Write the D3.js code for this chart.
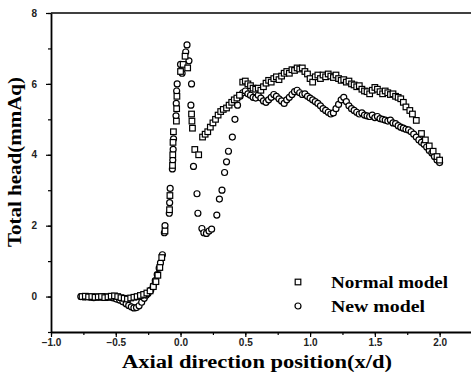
<!DOCTYPE html>
<html>
<head>
<meta charset="utf-8">
<script src="https://cdn.jsdelivr.net/npm/d3@7"></script>
<style>
  html, body { margin: 0; padding: 0; background: #fff; }
  svg { display: block; }
  .tick text { font-family: "Liberation Sans", Arial, sans-serif; font-weight: bold; font-size: 10px; fill: #222; }
  .title { font-family: "Liberation Serif", "Times New Roman", serif; font-weight: bold; fill: #000; }
</style>
</head>
<body>
<div id="chart"></div>
<script>
// Normal model (squares)
const normalX = [-0.76, -0.735, -0.71, -0.685, -0.66, -0.635, -0.61, -0.585, -0.56, -0.535, -0.51, -0.485, -0.46, -0.435, -0.41, -0.385, -0.36, -0.335, -0.31, -0.285, -0.26, -0.235, -0.21, -0.19, -0.175, -0.16, -0.145,
  -0.12, -0.085, -0.082, -0.062, -0.06, -0.058, -0.055, -0.032, -0.03, -0.028, 0.0, 0.02, 0.035, 0.055, 0.085, 0.088, 0.092, 0.11, 0.14,
  0.17, 0.19, 0.21, 0.23, 0.25, 0.27, 0.29, 0.31, 0.33, 0.355, 0.375, 0.395, 0.415, 0.435, 0.455, 0.48, 0.50, 0.52, 0.54, 0.56, 0.58, 0.60,
  0.62, 0.64, 0.66, 0.68, 0.70, 0.72, 0.74, 0.76, 0.78, 0.80, 0.82, 0.84, 0.86, 0.88, 0.90, 0.92, 0.94, 0.96, 0.98, 1.00, 1.02, 1.04, 1.06,
  1.08, 1.10, 1.12, 1.14, 1.16, 1.18, 1.20, 1.22, 1.24, 1.26, 1.28, 1.30, 1.32, 1.34, 1.36, 1.38, 1.40, 1.42, 1.44, 1.46, 1.48, 1.50, 1.52,
  1.54, 1.56, 1.58, 1.60, 1.62, 1.64, 1.66, 1.68, 1.70, 1.72, 1.74, 1.77, 1.79, 1.82, 1.86, 1.89, 1.92, 1.95, 1.98, 2.00];
const normalY = [0.00, 0.01, -0.01, 0.00, -0.02, -0.01, 0.00, -0.03, -0.01, 0.01, 0.02, 0.00, -0.03, -0.05, -0.07, -0.04, -0.02, 0.00, 0.03, 0.06, 0.10, 0.16, 0.28, 0.42, 0.60, 0.82, 1.10,
  1.85, 2.45, 2.85, 3.70, 4.00, 4.35, 4.65, 4.95, 5.30, 5.65, 6.35, 6.55, 6.78, 6.45, 5.15, 4.95, 4.75, 4.15, 4.00,
  4.50, 4.58, 4.65, 4.78, 4.90, 5.00, 5.12, 5.22, 5.28, 5.32, 5.40, 5.48, 5.55, 5.60, 5.68, 6.05, 6.08, 6.00, 5.95, 5.88, 5.85, 5.88,
  5.82, 5.92, 6.02, 6.10, 6.05, 6.15, 6.20, 6.12, 6.22, 6.30, 6.35, 6.30, 6.40, 6.38, 6.45, 6.42, 6.45, 6.35, 6.28, 6.15, 6.05, 6.20, 6.25,
  6.15, 6.25, 6.20, 6.28, 6.22, 6.18, 6.25, 6.15, 6.10, 6.12, 6.05, 6.08, 6.00, 5.97, 5.92, 5.95, 5.85, 5.80, 5.78, 5.72, 5.82, 5.90, 5.85,
  5.78, 5.72, 5.80, 5.75, 5.70, 5.72, 5.65, 5.62, 5.58, 5.48, 5.35, 5.25, 5.15, 4.97, 4.60, 4.42, 4.25, 4.10, 3.95, 3.85];

// New model (circles)
const newX = [-0.77, -0.745, -0.72, -0.695, -0.67, -0.645, -0.62, -0.595, -0.57, -0.545, -0.52, -0.495, -0.47, -0.445, -0.42, -0.40, -0.38, -0.36, -0.34, -0.32, -0.30, -0.28, -0.265, -0.25, -0.23, -0.21, -0.195, -0.18, -0.165, -0.155, -0.14,
  -0.125, -0.12, -0.087, -0.084, -0.08, -0.063, -0.06, -0.057, -0.054, -0.035, -0.033, -0.03, -0.026, 0.0, 0.012, 0.04, 0.05, 0.065, 0.085, 0.08,
  0.10, 0.127, 0.134, 0.165, 0.18, 0.20, 0.22, 0.24, 0.28, 0.30, 0.32, 0.34, 0.355, 0.37, 0.40, 0.42, 0.44, 0.46, 0.48, 0.50, 0.52, 0.54,
  0.56, 0.58, 0.60, 0.62, 0.64, 0.66, 0.68, 0.70, 0.72, 0.74, 0.76, 0.78, 0.80, 0.82, 0.84, 0.86, 0.88, 0.90, 0.92, 0.94, 0.96, 0.98, 1.00,
  1.02, 1.04, 1.06, 1.08, 1.10, 1.12, 1.14, 1.16, 1.18, 1.20, 1.22, 1.24, 1.26, 1.28, 1.30, 1.32, 1.34, 1.36, 1.38, 1.40, 1.42, 1.44, 1.46,
  1.48, 1.50, 1.52, 1.54, 1.56, 1.58, 1.60, 1.62, 1.64, 1.66, 1.68, 1.70, 1.72, 1.74, 1.76, 1.78, 1.80, 1.82, 1.84, 1.86, 1.88, 1.90, 1.92,
  1.94, 1.96, 1.98, 2.00];
const newY = [0.00, -0.01, 0.00, -0.02, -0.03, -0.01, -0.02, 0.00, -0.01, -0.02, -0.04, -0.07, -0.10, -0.15, -0.20, -0.25, -0.29, -0.32, -0.31, -0.26, -0.16, -0.05, 0.04, 0.09, 0.18, 0.30, 0.45, 0.62, 0.80, 0.95, 1.18,
  1.80, 2.00, 2.35, 2.65, 3.05, 3.60, 3.85, 4.15, 4.45, 5.10, 5.45, 5.80, 6.00, 6.55, 6.30, 6.90, 7.10, 6.65, 6.00, 5.40,
  3.67, 2.90, 2.35, 1.92, 1.80, 1.78, 1.85, 1.90, 2.30, 2.75, 3.00, 3.50, 3.80, 4.10, 4.50, 5.00, 5.40, 5.65, 5.75, 5.80, 5.72, 5.68,
  5.62, 5.60, 5.68, 5.60, 5.52, 5.48, 5.55, 5.62, 5.70, 5.65, 5.58, 5.52, 5.45, 5.55, 5.62, 5.70, 5.78, 5.82, 5.75, 5.70, 5.72, 5.65, 5.60,
  5.55, 5.50, 5.45, 5.38, 5.30, 5.25, 5.20, 5.15, 5.18, 5.30, 5.42, 5.55, 5.62, 5.50, 5.38, 5.30, 5.25, 5.20, 5.15, 5.18, 5.12, 5.10, 5.08,
  5.12, 5.05, 5.08, 5.02, 5.00, 4.98, 4.95, 4.98, 4.90, 4.88, 4.82, 4.78, 4.75, 4.72, 4.70, 4.65, 4.58, 4.50, 4.42, 4.35, 4.30, 4.22, 4.12,
  4.05, 3.95, 3.85, 3.78];

const xMajorTicks = [-1.0, -0.5, 0.0, 0.5, 1.0, 1.5, 2.0];
const xMinorTicks = [-1.0, -0.75, -0.5, -0.25, 0.0, 0.25, 0.5, 0.75, 1.0, 1.25, 1.5, 1.75, 2.0];
const yMajorTicks = [0, 2, 4, 6, 8];
const yMinorTicks = [-1, 0, 1, 2, 3, 4, 5, 6, 7, 8];
const legendLabels = ["Normal model", "New model"];

const width = 471;
const height = 376;

const svg = d3.select("#chart")
  .append("svg")
  .attr("width", width)
  .attr("height", height);

const x = d3.scaleLinear().domain([-1, 2.25]).range([51, 472]);
const y = d3.scaleLinear().domain([-1, 8]).range([332, 13]);

// minor ticks
svg.append("g")
  .attr("transform", `translate(0, ${y(-1)})`)
  .call(d3.axisBottom(x).tickValues(xMinorTicks).tickSize(3).tickSizeOuter(0).tickFormat(""))
  .call(g => g.select(".domain").remove());

svg.append("g")
  .attr("transform", `translate(${x(-1)}, 0)`)
  .call(d3.axisLeft(y).tickValues(yMinorTicks).tickSize(3).tickSizeOuter(0).tickFormat(""))
  .call(g => g.select(".domain").remove());

// major ticks and labels
svg.append("g")
  .attr("transform", `translate(0, ${y(-1)})`)
  .call(d3.axisBottom(x).tickValues(xMajorTicks).tickSize(5).tickSizeOuter(0).tickPadding(2).tickFormat(d3.format(".1f")));

svg.append("g")
  .attr("transform", `translate(${x(-1)}, 0)`)
  .call(d3.axisLeft(y).tickValues(yMajorTicks).tickSize(5).tickSizeOuter(0).tickPadding(9).tickFormat(d3.format("d")));

svg.selectAll(".domain").attr("stroke", "#000").attr("stroke-width", 1.8);
svg.selectAll(".tick line").attr("stroke", "#000").attr("stroke-width", 1.2);

// top frame
svg.append("line")
  .attr("x1", x(-1)).attr("x2", x(2.25))
  .attr("y1", y(8)).attr("y2", y(8))
  .attr("stroke", "#000").attr("stroke-width", 1.5);

const newData = newX.map((d, i) => ({x: d, y: newY[i]}));
const normalData = normalX.map((d, i) => ({x: d, y: normalY[i]}));

svg.selectAll("circle.newModel")
  .data(newData)
  .enter()
  .append("circle")
  .attr("class", "newModel")
  .attr("cx", d => x(d.x))
  .attr("cy", d => y(d.y))
  .attr("r", 3)
  .attr("fill", "#fff")
  .attr("stroke", "#000")
  .attr("stroke-width", 1.2);

svg.selectAll("rect.normalModel")
  .data(normalData)
  .enter()
  .append("rect")
  .attr("class", "normalModel")
  .attr("x", d => x(d.x) - 2.8)
  .attr("y", d => y(d.y) - 2.8)
  .attr("width", 5.6)
  .attr("height", 5.6)
  .attr("fill", "#fff")
  .attr("stroke", "#000")
  .attr("stroke-width", 1.2);

// legend
const legend = svg.append("g").attr("transform", "translate(298, 282)");
legend.append("rect")
  .attr("x", -2.8).attr("y", -2.8).attr("width", 5.6).attr("height", 5.6)
  .attr("fill", "#fff").attr("stroke", "#000").attr("stroke-width", 1.2);
legend.append("circle")
  .attr("cx", 0).attr("cy", 24).attr("r", 3)
  .attr("fill", "#fff").attr("stroke", "#000").attr("stroke-width", 1.2);
legend.selectAll("text")
  .data(legendLabels)
  .enter()
  .append("text")
  .attr("class", "title")
  .attr("x", 33)
  .attr("y", (d, i) => i * 24 + 6)
  .attr("font-size", 17)
  .attr("textLength", (d, i) => i === 0 ? 117 : 94)
  .attr("lengthAdjust", "spacingAndGlyphs")
  .text(d => d);

// axis titles
svg.append("text")
  .attr("class", "title")
  .attr("x", 257)
  .attr("y", 368)
  .attr("text-anchor", "middle")
  .attr("font-size", 18)
  .attr("textLength", 270)
  .attr("lengthAdjust", "spacingAndGlyphs")
  .text("Axial direction position(x/d)");

svg.append("text")
  .attr("class", "title")
  .attr("transform", "translate(21, 162) rotate(-90)")
  .attr("text-anchor", "middle")
  .attr("font-size", 18)
  .attr("textLength", 170)
  .attr("lengthAdjust", "spacingAndGlyphs")
  .text("Total head(mmAq)");
</script>
</body>
</html>
